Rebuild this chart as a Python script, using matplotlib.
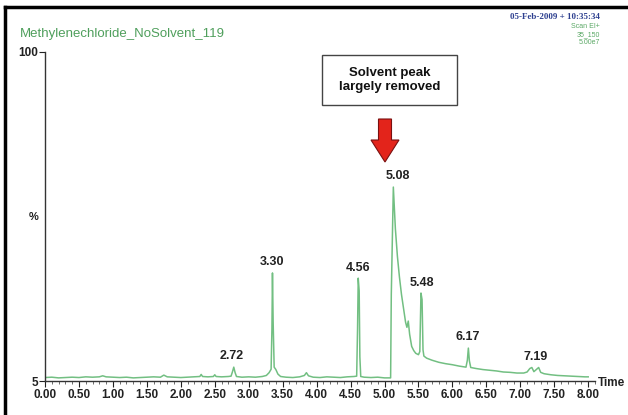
import numpy as np
import matplotlib.pyplot as plt
from matplotlib.patches import Rectangle, FancyArrow
from matplotlib.ticker import MultipleLocator

plt.rcParams['font.family'] = ['Liberation Sans Narrow', 'Liberation Sans', 'DejaVu Sans']

# chromatogram trace (time in min, intensity in %)
times = [0.00, 0.10, 0.20, 0.30, 0.40, 0.50, 0.60, 0.70, 0.80, 0.85, 0.90, 1.00,
         1.10, 1.20, 1.30, 1.40, 1.50, 1.60, 1.70, 1.75, 1.80, 1.90, 2.00, 2.10,
         2.20, 2.28, 2.30, 2.32, 2.40, 2.48, 2.50, 2.52, 2.60, 2.70, 2.74, 2.76,
         2.78, 2.80, 2.82, 2.90, 3.00, 3.10, 3.20, 3.26, 3.30, 3.33, 3.342, 3.35,
         3.36, 3.375, 3.40, 3.43, 3.47, 3.55, 3.65, 3.75, 3.82, 3.85, 3.88, 3.95,
         4.05, 4.15, 4.25, 4.35, 4.45, 4.55, 4.59, 4.603, 4.613, 4.627, 4.637, 4.65,
         4.70, 4.80, 4.90, 5.00, 5.09, 5.10, 5.13, 5.16, 5.19, 5.22, 5.25, 5.28,
         5.31, 5.33, 5.35, 5.37, 5.40, 5.43, 5.46, 5.50, 5.52, 5.537, 5.553, 5.567,
         5.58, 5.62, 5.70, 5.80, 5.90, 6.00, 6.10, 6.20, 6.22, 6.235, 6.25, 6.27,
         6.35, 6.45, 6.55, 6.65, 6.75, 6.85, 6.95, 7.05, 7.10, 7.14, 7.17, 7.20,
         7.23, 7.27, 7.30, 7.35, 7.45, 7.55, 7.65, 7.75, 7.85, 7.95, 8.00]
intensity = [6.0, 6.1, 5.9, 6.0, 6.1, 6.0, 6.2, 6.1, 6.2, 6.5, 6.2, 6.1,
             6.0, 6.1, 5.9, 6.0, 6.1, 6.2, 6.1, 6.7, 6.2, 6.1, 6.0, 6.1,
             6.2, 6.3, 6.9, 6.3, 6.2, 6.3, 6.8, 6.3, 6.2, 6.3, 6.4, 7.6,
             9.0, 7.4, 6.3, 6.1, 6.2, 6.1, 6.3, 6.6, 7.4, 8.4, 20.0, 36.2,
             22.0, 9.0, 8.3, 7.0, 6.3, 6.1, 6.0, 6.2, 6.6, 7.4, 6.5, 6.1,
             6.0, 6.2, 6.1, 6.0, 6.2, 6.3, 6.4, 20.0, 34.7, 31.0, 12.0, 6.3,
             6.1, 6.0, 6.1, 5.9, 5.9, 30.0, 61.0, 49.0, 41.0, 35.0, 30.0, 26.0,
             22.0, 20.5, 22.3, 18.5, 15.0, 13.8, 13.0, 12.6, 13.5, 30.4, 28.5, 14.0,
             12.2, 11.6, 11.0, 10.4, 10.0, 9.7, 9.3, 9.0, 11.0, 14.5, 10.8, 8.9,
             8.6, 8.3, 8.1, 7.9, 7.6, 7.5, 7.3, 7.3, 7.6, 8.6, 8.9, 7.7,
             8.2, 8.9, 7.5, 7.1, 6.8, 6.6, 6.5, 6.4, 6.3, 6.2, 6.2]

# labelled retention times and where their tags sit (peak time, tag height)
rt_labels = ['2.72', '3.30', '4.56', '5.08', '5.48', '6.17', '7.19']
rt_x = [2.75, 3.35, 4.61, 5.20, 5.55, 6.22, 7.23]
rt_y = [10.5, 37.5, 36.0, 62.5, 31.5, 16.0, 10.3]

W, H = 628, 415
fig = plt.figure(figsize=(W / 100, H / 100), dpi=100)
fig.patch.set_facecolor('white')


def fx(p):
    return p / W


def fy(p):
    return 1 - p / H


ax = fig.add_axes([fx(45), fy(381), fx(595) - fx(45), fy(52) - fy(381)])
ax.plot(times, intensity, color='#72bf82', lw=1.1)
ax.set_xlim(0, 8.1)
ax.set_ylim(5, 100)

for s in ['top', 'right']:
    ax.spines[s].set_visible(False)
ax.spines['left'].set_linewidth(1.0)
ax.spines['bottom'].set_linewidth(1.0)
ax.spines['left'].set_color('#333333')
ax.spines['bottom'].set_color('#333333')

ax.set_xticks(np.arange(0, 8.01, 0.5))
ax.set_xticklabels(['%.2f' % v for v in np.arange(0, 8.01, 0.5)])
ax.xaxis.set_minor_locator(MultipleLocator(0.1))
ax.tick_params(axis='x', which='major', length=4, width=0.8, pad=2,
               labelsize=8.5, colors='#222222')
ax.tick_params(axis='x', which='minor', length=2, width=0.6, colors='#555555')
for t in ax.get_xticklabels():
    t.set_fontweight('bold')

ax.set_yticks([5, 100])
ax.set_yticklabels(['5', '100'])
ax.tick_params(axis='y', length=4, width=0.8, pad=1, labelsize=8.5, colors='#222222')
for t in ax.get_yticklabels():
    t.set_fontweight('bold')

ax.text(-0.012, 0.5, '%', transform=ax.transAxes, ha='right', va='center',
        fontsize=8, fontweight='bold', color='#222222')
fig.text(fx(598), fy(383), 'Time', ha='left', va='center', fontsize=8.5,
         fontweight='bold', color='#222222')

for lab, x, y in zip(rt_labels, rt_x, rt_y):
    ax.text(x, y, lab, ha='center', va='bottom', fontsize=9,
            fontweight='bold', color='#222222')

# header texts
fig.text(fx(20), fy(34), 'Methylenechloride_NoSolvent_119', ha='left', va='center',
         fontsize=9.5, color='#4f9f5c')
fig.text(fx(600), fy(17), '05-Feb-2009 + 10:35:34', ha='right', va='center',
         fontsize=6.5, fontweight='bold', color='#2d3f8f', family='Liberation Serif')
for i, s in enumerate(['Scan EI+', '35_150', '5.00e7']):
    fig.text(fx(600), fy(27 + 8 * i), s, ha='right', va='center',
             fontsize=5, color='#5aa865')

# annotation box and red arrow
fig.add_artist(Rectangle((fx(322), fy(105)), fx(457) - fx(322), fy(55) - fy(105),
                         transform=fig.transFigure, fill=False,
                         edgecolor='#444444', lw=1.0))
fig.text(fx(390), fy(80), 'Solvent peak\nlargely removed', ha='center', va='center',
         fontsize=9.5, fontweight='bold', color='#111111', linespacing=1.15,
         family=['Liberation Sans', 'DejaVu Sans'])
fig.add_artist(FancyArrow(fx(385), fy(119), 0, fy(162) - fy(119),
                          width=fx(13), head_width=fx(28), head_length=(22 / H),
                          length_includes_head=True, transform=fig.transFigure,
                          facecolor='#e3241b', edgecolor='#7a1010', lw=0.8))

# image frame (left and top edges)
fig.add_artist(plt.Line2D([fx(5), fx(5)], [0, fy(7)], transform=fig.transFigure,
                          color='black', lw=2.5))
fig.add_artist(plt.Line2D([fx(5), 1], [fy(7), fy(7)], transform=fig.transFigure,
                          color='black', lw=2.5))

fig.savefig('out.png', dpi=100)
